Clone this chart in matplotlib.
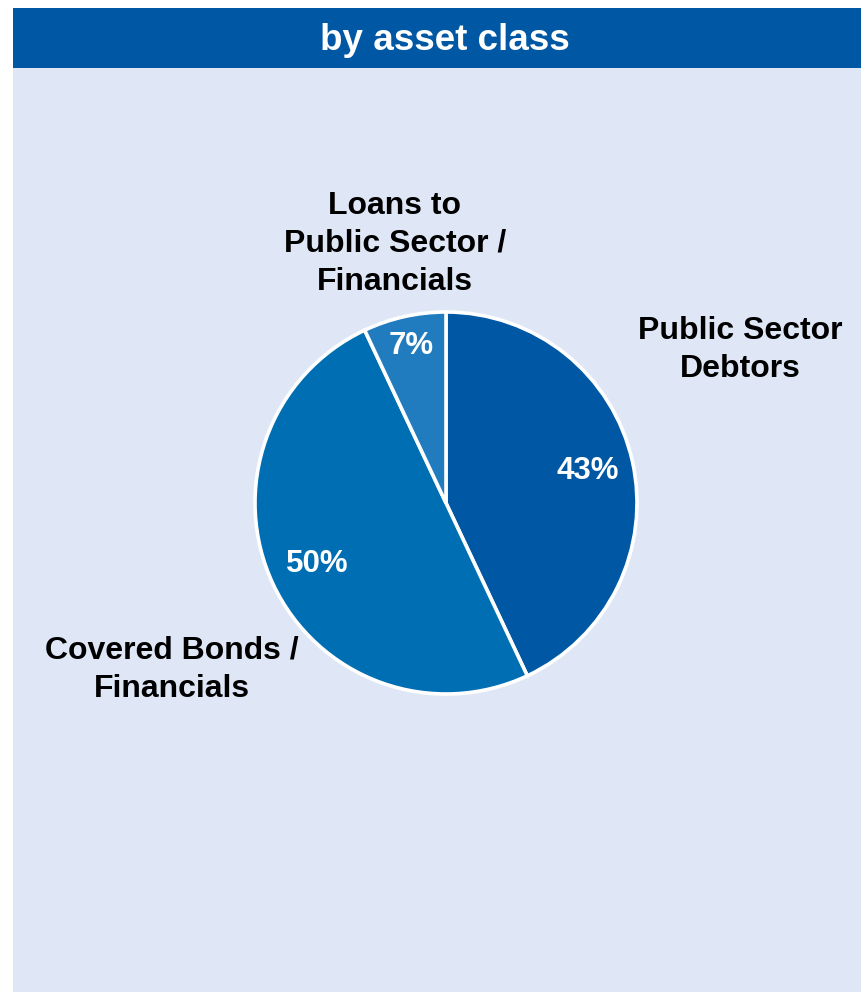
import matplotlib
matplotlib.use('Agg')
import matplotlib.pyplot as plt
from matplotlib.patches import Rectangle
import numpy as np

title = 'by asset class'
labels = ['Public Sector\nDebtors', 'Covered Bonds /\nFinancials', 'Loans to\nPublic Sector /\nFinancials']
shares = [43, 50, 7]
colors = ['#0057A3', '#006EB3', '#217CBF']

W, H = 861, 993
plt.rcParams['font.family'] = ['Liberation Sans', 'DejaVu Sans']

fig = plt.figure(figsize=(W / 100, H / 100), dpi=100)
fig.patch.set_facecolor('white')

# background panel in pixel coords
bg = fig.add_axes([0, 0, 1, 1])
bg.set_xlim(0, W)
bg.set_ylim(H, 0)
bg.axis('off')
bg.add_patch(Rectangle((13, 68), W - 13, 924, facecolor='#DFE7F6', edgecolor='none'))
bg.add_patch(Rectangle((13, 8), W - 13, 60, facecolor='#0057A3', edgecolor='none'))
bg.text(445, 41, title, color='white', fontsize=26.5, fontweight='bold', ha='center', va='center')

# pie
cx, cy, r = 446, 503, 191
half = r * 1.05
pax = fig.add_axes([(cx - half) / W, (H - cy - half) / H, 2 * half / W, 2 * half / H])
wedges, _ = pax.pie(shares, colors=colors, startangle=90, counterclock=False,
                    radius=1.0, wedgeprops=dict(edgecolor='white', linewidth=2.6))
pax.set_xlim(-1.05, 1.05)
pax.set_ylim(-1.05, 1.05)
pax.set_aspect('equal')
pax.axis('off')

pct_dist = [0.76, 0.745, 0.84]
for w, s, d in zip(wedges, shares, pct_dist):
    ang = np.deg2rad((w.theta1 + w.theta2) / 2)
    pax.text(d * np.cos(ang), d * np.sin(ang), f'{s}%', color='white',
             fontsize=22.5, fontweight='bold', ha='center', va='center')

# outer labels
label_pos = [(740, 350), (172, 670), (395, 244)]
for lab, (x, y) in zip(labels, label_pos):
    bg.text(x, y, lab, color='black', fontsize=23, fontweight='bold',
            ha='center', va='center', linespacing=1.35)

fig.savefig('out.png', dpi=100, facecolor=fig.get_facecolor())
